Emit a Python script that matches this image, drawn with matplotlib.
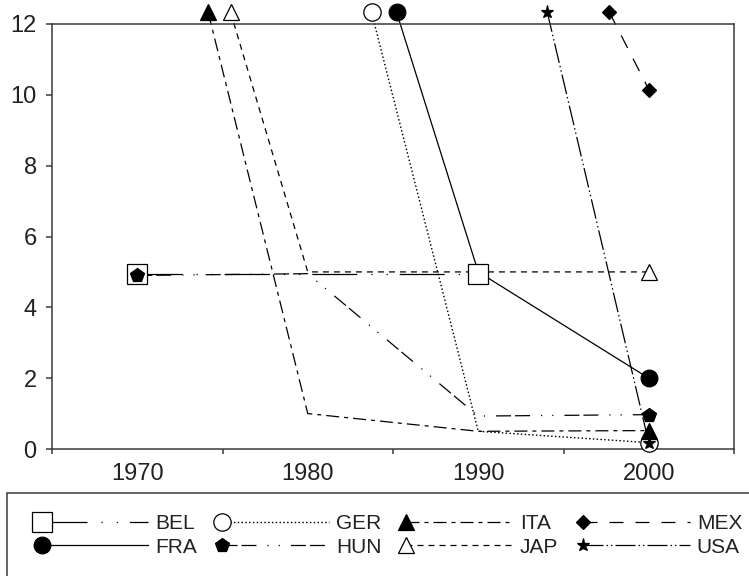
import numpy as np
import matplotlib
matplotlib.use("Agg")
import matplotlib.pyplot as plt
from matplotlib.legend_handler import HandlerLine2D
from matplotlib.lines import Line2D
from matplotlib.patches import Rectangle
from matplotlib.ticker import FixedLocator, NullFormatter

# ---------------- data ----------------
years = [1970, 1980, 1990, 2000]
series_names = ["BEL", "FRA", "GER", "HUN", "ITA", "JAP", "MEX", "USA"]
BEL = [4.95, np.nan, 4.95, np.nan]
FRA = [np.nan, 20.3, 5.0, 2.0]
GER = [np.nan, 19.4, 0.5, 0.18]
HUN = [4.9, 4.95, 0.93, 0.97]
ITA = [20.4, 1.0, 0.5, 0.52]
JAP = [21.2, 5.0, 5.0, 5.0]
MEX = [np.nan, np.nan, 19.6, 10.15]
USA = [np.nan, np.nan, 20.6, 0.18]
y_ticks = [0, 2, 4, 6, 8, 10, 12]
x_labels = ["1970", "1980", "1990", "2000"]

values = dict(BEL=BEL, FRA=FRA, GER=GER, HUN=HUN, ITA=ITA, JAP=JAP, MEX=MEX, USA=USA)

# ---------------- styles ----------------
PX = 0.72  # points per pixel at dpi 100
styles = {
    "BEL": dict(marker="s", ms=15, mfc="white", dashes=(45 * PX, 14 * PX, 1.2 * PX, 14 * PX, 1.2 * PX, 12 * PX)),
    "FRA": dict(marker="o", ms=12, mfc="black", dashes=None),
    "GER": dict(marker="o", ms=12.5, mfc="white", dashes=(1.5 * PX, 2.3 * PX)),
    "HUN": dict(marker="p", ms=10.6, mfc="black", dashes=(15 * PX, 4 * PX, 15 * PX, 11 * PX, 1.2 * PX, 10 * PX, 1.2 * PX, 11 * PX)),
    "ITA": dict(marker="^", ms=11, mfc="black", dashes=(13 * PX, 5 * PX, 4 * PX, 5 * PX)),
    "JAP": dict(marker="^", ms=11, mfc="white", dashes=(6 * PX, 5 * PX)),
    "MEX": dict(marker="D", ms=7.6, mfc="black", dashes=(14 * PX, 12 * PX)),
    "USA": dict(marker="*", ms=9.5, mfc="black", dashes=(20 * PX, 3 * PX, 1.5 * PX, 3 * PX, 1.5 * PX, 3 * PX)),
}

plt.rcParams["font.family"] = ["Liberation Sans", "DejaVu Sans"]
plt.rcParams["lines.scale_dashes"] = False

fig = plt.figure(figsize=(7.49, 5.76), dpi=100)
ax = fig.add_axes([52 / 749, 1 - 449 / 576, (734 - 52) / 749, (449 - 24) / 576])

YMAX = 12
CLIP = 12.33  # values above the axis are drawn where their line leaves the chart


def clip_series(xs, ys, top):
    """Return the polyline of a series, clipped at y=top."""
    pts = [(x, y) for x, y in zip(xs, ys) if not np.isnan(y)]
    line_x, line_y = [], []
    for i, (x, y) in enumerate(pts):
        if y <= top:
            if i > 0 and pts[i - 1][1] > top:
                x0, y0 = pts[i - 1]
                t = (y0 - top) / (y0 - y)
                line_x.append(x0 + t * (x - x0)); line_y.append(top)
            line_x.append(x); line_y.append(y)
    return line_x, line_y


handles = []
for name in series_names:
    st = styles[name]
    lx, ly = clip_series(years, values[name], CLIP)
    lw = 1.0 if name == "GER" else 0.9
    ln, = ax.plot(lx, ly, color="black", lw=lw, clip_on=False, zorder=2)
    if st["dashes"] is not None:
        ln.set_dashes(st["dashes"])
    # markers only at the two ends of each series
    ax.plot([lx[0], lx[-1]], [ly[0], ly[-1]], ls="none", marker=st["marker"], ms=st["ms"],
            mfc=st["mfc"], mec="black", mew=0.9, clip_on=False, zorder=3)
    h = Line2D([], [], color="black", lw=lw, marker=st["marker"], ms=st["ms"],
               mfc=st["mfc"], mec="black", mew=0.9, label=name)
    if st["dashes"] is not None:
        h.set_dashes(st["dashes"])
    handles.append(h)

ax.set_xlim(1965, 2005)
ax.set_ylim(0, YMAX)

spine_c = "#3a3a3a"
for s in ax.spines.values():
    s.set_color(spine_c)
    s.set_linewidth(1.1)

ax.set_yticks(y_ticks)
ax.set_yticklabels([str(v) for v in y_ticks])
ax.tick_params(axis="y", direction="out", length=4, width=1.1, color=spine_c,
               labelsize=17, pad=7, labelcolor="#222222")

ax.xaxis.set_major_locator(FixedLocator([1965, 1975, 1985, 1995, 2005]))
ax.xaxis.set_major_formatter(NullFormatter())
ax.xaxis.set_minor_locator(FixedLocator(years))
ax.set_xticklabels(x_labels, minor=True)
ax.tick_params(axis="x", which="major", direction="out", length=3.5, width=1.1, color=spine_c)
ax.tick_params(axis="x", which="minor", length=0, labelsize=17, pad=10, labelcolor="#222222")


class LeftMarkerHandler(HandlerLine2D):
    def create_artists(self, legend, orig_handle, xdescent, ydescent, width, height,
                       fontsize, trans):
        y = (height - ydescent) / 2
        line = Line2D([-xdescent, -xdescent + width], [y, y])
        self.update_prop(line, orig_handle, legend)
        line.set_marker("None")
        mk = Line2D([-xdescent], [y])
        self.update_prop(mk, orig_handle, legend)
        mk.set_linestyle("None")
        line.set_transform(trans)
        mk.set_transform(trans)
        return [line, mk]


# legend frame (extends past figure edges as in the reference)
fig.patches.append(Rectangle((7 / 749, -0.3), 1.2, 0.3 + (1 - 493 / 576),
                             transform=fig.transFigure, fill=False,
                             edgecolor=spine_c, linewidth=1.1, clip_on=False))

leg = fig.legend(handles=handles, labels=series_names, ncol=4,
                 loc="upper left", bbox_to_anchor=(42 / 749, 1 - 514 / 576),
                 frameon=False, fontsize=15, handlelength=5.1, handletextpad=0.35,
                 columnspacing=1.2, labelspacing=0.22, borderpad=0, borderaxespad=0,
                 handler_map={Line2D: LeftMarkerHandler()})
for t in leg.get_texts():
    t.set_color("#222222")

fig.savefig("out.png", dpi=100)
